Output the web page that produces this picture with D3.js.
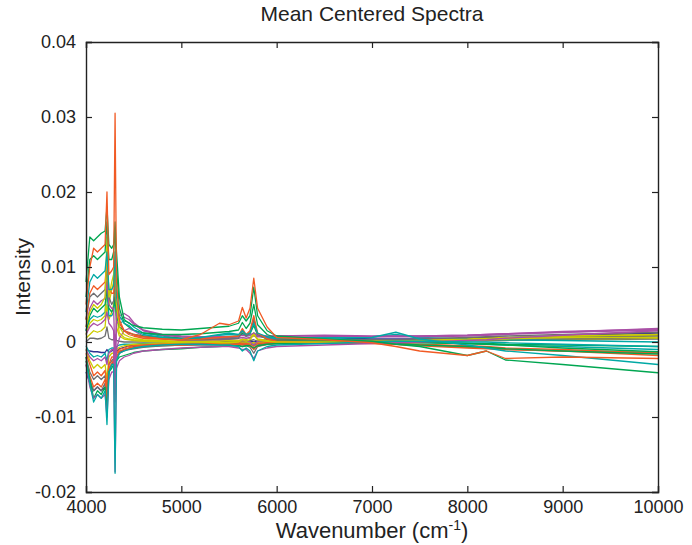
<!DOCTYPE html>
<html>
<head>
<meta charset="utf-8">
<script src="https://cdn.jsdelivr.net/npm/d3@7"></script>
<style>
  body { margin: 0; background: #fff; }
  text { font-family: "Liberation Sans", Arial, sans-serif; fill: #222; }
</style>
</head>
<body>
<div id="chart"></div>
<script>
// wavenumber grid (cm-1) shared by all spectra
var wavenumbers = [4000, 4040, 4080, 4120, 4160, 4200, 4220, 4240, 4270, 4290, 4305, 4320, 4350, 4400, 4450, 4500, 4600, 4800, 5000, 5200,
  5400, 5500, 5600, 5640, 5680, 5720, 5760, 5800, 5900, 6000, 6500, 7000, 7250, 7500, 8000, 8200, 8400, 9000, 10000];

// mean centered intensities, in units of 1e-3
var spec01 = [8, 14, 13.5, 14, 14.5, 14.8, 18, 13, 12.5, 13, 16, 12, 6, 3, 2.5, 2.2, 1.9, 1.7, 1.6, 1.8,
  2.0, 2.1, 2.5, 3.5, 2.8, 3.5, 7.3, 3.5, 1.5, 0.8, 0.4, 0.1, -0.3, -0.6, -1.8, -1.2, -2.4, -3.0, -4.1];
var spec02 = [5, 10, 12.5, 12, 12.5, 13, 20, 9, 9.5, 10, 30.5, 8, 3, 1.5, 1, 0.8, 0.5, 0.4, 0.3, 1.0,
  2.5, 2.3, 2.8, 4.6, 3.2, 4.5, 8.5, 4.5, 2.0, 0.6, 0.3, -0.1, -0.6, -1.2, -1.8, -1.2, -2.2, -2.0, -2.2];
var spec03 = [4, 8, 9, 8.5, 9, 9.5, 12, 7, 7, 7.5, 12, 6, 3.5, 2.5, 2.2, 1.6, 1.0, 0.6, 0.4, 0.6,
  1.0, 1.2, 1.0, 1.5, 1.0, 1.2, 2.5, 1.2, 0.7, 0.5, 0.5, 0.6, 1.3, 0.4, -0.4, -0.8, -1.2, -1.8, -3.0];
var spec04 = [2, 4, 5, 4.5, 5, 6, 14, 6, 8, 9, 12, 5, 2, 1, 0.7, 0.5, 0.3, 0.2, 0.0, 0.0,
  -0.1, -0.1, 0.0, 0.3, 0.1, 0.3, 1.0, 0.3, 0.1, 0.0, 0.0, 0.0, 0.0, 0.1, 0.2, 0.3, 0.4, 0.6, 0.6];
var spec05 = [1, 2, 2.5, 2.2, 2.5, 3, 4, 2.5, 2, 1.5, -5, 2.5, 3, 3.3, 3.0, 2.4, 1.5, 0.9, 0.7, 0.6,
  0.5, 0.5, 0.5, 0.6, 0.5, 0.6, 0.8, 0.7, 0.7, 0.8, 0.8, 0.7, 0.7, 0.7, 0.8, 0.9, 1.0, 1.3, 1.8];
var spec06 = [-1, -1.2, -1.3, -1.3, -1.4, -1.4, -1.0, -1.4, -1.2, -1.1, -1.0, -1.2, -0.9, -0.7, -0.5, -0.4, -0.3, -0.2, -0.1, 0.0,
  0.1, 0.1, 0.1, 0.1, 0.1, 0.1, 0.0, 0.1, 0.3, 0.4, 0.6, 0.4, 0.4, 0.4, 0.5, 0.6, 0.6, 0.8, 1.2];
var spec07 = [3, 6, 6.5, 6, 6.5, 7, 10, 6, 5, 5.5, 8, 4.5, 2.5, 1.5, 1.2, 1.0, 0.7, 0.5, 0.3, 0.3,
  0.4, 0.4, 0.5, 1.5, 0.8, 1.2, 3.0, 1.0, 0.4, 0.3, 0.3, 0.3, 0.3, 0.4, 0.6, 0.7, 0.8, 1.0, 1.3];
var spec08 = [-2, -5, -7.5, -6.5, -7, -6, -9, -4, -3.5, -3, -6, -2.5, -2, -1.8, -1.6, -1.4, -1.2, -1.0, -0.9, -0.7,
  -0.6, -0.5, -0.5, -0.6, -0.5, -0.5, -0.8, -0.5, -0.3, -0.2, -0.1, 0.0, 0.0, 0.0, -0.2, -0.3, -0.4, -0.8, -1.3];
var spec09 = [-1.5, -3, -4.5, -4, -4.5, -3.8, -6, -3, -2, -2, -4, -1.5, -1, -0.8, -0.6, -0.5, -0.4, -0.3, -0.3, -0.2,
  -0.2, -0.1, -0.1, -0.2, -0.2, -0.3, -0.6, -0.2, -0.1, -0.1, 0.0, -0.1, -0.2, -0.3, -0.5, -0.6, -0.8, -1.0, -1.5];
var spec10 = [-2.5, -5.5, -8, -7, -7.5, -6.5, -11, -4, -3, -3, -17.5, -2.5, -1.5, -1.2, -1.0, -0.8, -0.6, -0.4, -0.3, -0.3,
  -0.4, -0.4, -0.6, -1.2, -0.8, -1.2, -2.5, -1.2, -0.6, -0.4, -0.2, 0.0, 0.1, 0.1, 0.0, 0.0, -0.1, -0.3, -0.6];
var spec11 = [-1, -2.5, -3.5, -3, -3.5, -3, -5, -2, -1.5, -1.5, -3, -1, -0.7, -0.5, -0.4, -0.3, -0.3, -0.2, -0.2, -0.1,
  -0.1, 0.0, 0.0, 0.0, 0.0, 0.0, -0.2, 0.0, 0.0, 0.0, 0.0, 0.0, 0.0, 0.1, 0.2, 0.3, 0.3, 0.4, 0.5];
var spec12 = [-3, -6, -7.5, -7, -7.5, -7, -10, -5, -4, -4, -17.3, -3.5, -2.5, -2, -1.8, -1.5, -1.2, -1.0, -0.8, -0.7,
  -0.6, -0.6, -0.8, -1.0, -1.0, -1.5, -2.2, -1.2, -0.8, -0.6, -0.4, -0.2, -0.1, 0.0, 0.2, 0.3, 0.5, 0.9, 1.5];
var spec13 = [-4, -5.5, -6.5, -6, -6.5, -6, -7, -4, -3, -2.5, -4, -2, -1.5, -1, -0.8, -0.6, -0.5, -0.4, -0.3, -0.2,
  -0.1, 0.0, 0.0, 0.0, 0.0, 0.0, -0.2, 0.0, 0.1, 0.2, 0.3, 0.3, 0.3, 0.3, 0.4, 0.4, 0.5, 0.7, 0.9];
var spec14 = [-2, -4, -5, -4.5, -5, -4.5, -7, -3, -2.5, -2.2, -6, -2, -1.3, -1.0, -0.9, -0.8, -0.6, -0.5, -0.4, -0.3,
  -0.3, -0.2, -0.2, -0.3, -0.3, -0.4, -0.9, -0.4, -0.2, -0.1, 0.0, 0.1, 0.1, 0.2, 0.3, 0.4, 0.4, 0.6, 0.8];
var spec15 = [6, 11, 11.5, 11, 11.5, 12, 16, 11, 11, 12, 15, 10, 4.5, 2.5, 2.0, 1.6, 1.2, 1.0, 1.0, 1.1,
  1.3, 1.4, 1.6, 2.6, 1.8, 2.5, 5.0, 2.3, 1.0, 0.5, 0.3, 0.0, -0.2, -0.4, -0.6, -0.7, -0.9, -1.2, -1.6];
var spec16 = [3, 6.5, 7.5, 7, 7.5, 8, 11, 7, 6.5, 6.5, 10, 5, 2.5, 1.5, 1.3, 1.0, 0.7, 0.5, 0.3, 0.4,
  0.6, 0.7, 0.8, 1.8, 1.0, 1.5, 3.5, 1.2, 0.4, 0.1, -0.1, -0.2, -0.3, -0.4, -0.7, -0.8, -1.0, -1.2, -1.8];
var spec17 = [1.5, 3, 3.5, 3.3, 3.5, 4, 7, 3.5, 3.5, 4, 6, 3, 2.5, 2.8, 2.6, 2.0, 1.2, 0.8, 0.5, 0.5,
  0.9, 1.0, 0.9, 1.0, 0.8, 0.9, 1.2, 0.8, 0.6, 0.5, 0.6, 0.7, 1.0, 0.6, 0.4, 0.4, 0.3, 0.2, 0.0];
var spec18 = [0.5, 1, 1.5, 1.3, 1.5, 2, 5, 3, 4, 5, 8, 2, 0.8, 0.4, 0.3, 0.2, 0.1, 0.0, -0.1, -0.2,
  -0.3, -0.3, -0.3, -0.2, -0.3, -0.2, -0.1, -0.2, -0.2, -0.1, 0.0, 0.0, 0.1, 0.1, 0.3, 0.4, 0.5, 0.7, 0.9];
var spec19 = [-1, -2, -2.5, -2.2, -2.5, -2, -3, -1.5, -1, -1, -8, -1, 0.5, 1.5, 1.8, 1.5, 0.8, 0.4, 0.2, 0.2,
  0.3, 0.3, 0.2, 0.2, 0.2, 0.0, -0.4, 0.1, 0.3, 0.5, 0.7, 0.7, 0.8, 0.8, 0.9, 1.0, 1.1, 1.3, 1.6];
var spec20 = [0, 0.5, 0.5, 0.4, 0.5, 0.8, 2, 0.5, 0.3, 0.3, 1, 0.2, 0.1, 0.0, 0.0, 0.0, 0.0, 0.0, 0.0, 0.1,
  0.1, 0.1, 0.1, 0.2, 0.1, 0.2, 0.3, 0.1, 0.1, 0.1, 0.1, 0.1, 0.1, 0.1, 0.2, 0.2, 0.2, 0.3, 0.4];
var spec21 = [-0.5, -1.5, -2, -1.8, -2, -1.5, -2.5, -1, -0.8, -0.8, -2, -0.6, -0.4, -0.3, -0.3, -0.3, -0.2, -0.2, -0.2, -0.1,
  -0.1, -0.1, -0.1, -0.2, -0.1, -0.2, -0.5, -0.2, -0.1, 0.0, 0.0, 0.0, 0.2, 0.0, -0.2, -0.3, -0.4, -0.6, -1.0];
var spec22 = [2, 4.5, 5.5, 5, 5.5, 5.8, 8, 5, 4.5, 4.5, -3, 4, 3.5, 3.8, 3.4, 2.6, 1.6, 1.0, 0.8, 0.7,
  0.7, 0.7, 0.7, 0.9, 0.8, 0.9, 1.2, 0.9, 0.8, 0.8, 0.9, 0.8, 0.8, 0.8, 0.9, 1.0, 1.1, 1.4, 1.7];
var spec23 = [1, 2.5, 3, 2.8, 3, 3.5, 9, 5, 7, 8, 11, 3.5, 1.2, 0.6, 0.4, 0.3, 0.2, 0.1, 0.1, 0.1,
  0.1, 0.2, 0.2, 0.4, 0.3, 0.5, 1.2, 0.4, 0.2, 0.2, 0.2, 0.2, 0.2, 0.3, 0.4, 0.5, 0.6, 0.8, 1.0];
var spec24 = [-2.5, -4.5, -6, -5.5, -6, -5, -8, -3.5, -2.8, -2.5, -5, -2, -1.2, -1.0, -0.8, -0.7, -0.5, -0.4, -0.4, -0.3,
  -0.3, -0.3, -0.3, -0.4, -0.4, -0.5, -1.0, -0.5, -0.3, -0.2, -0.1, -0.1, -0.3, -0.5, -0.8, -0.9, -1.0, -1.2, -1.4];
var spec25 = [1.5, 3.5, 4.5, 4, 4.5, 5, 7, 4.5, 4, 4.5, 6, 3.5, 2, 1.5, 1.2, 1.0, 0.8, 0.6, 0.5, 0.5,
  0.6, 0.6, 0.7, 1.2, 0.8, 1.1, 2.2, 0.9, 0.4, 0.2, 0.1, 0.0, 0.0, -0.1, -0.2, -0.2, -0.3, -0.4, -0.6];
var spec26 = [-3, -5, -6.5, -6, -6.5, -5.5, -8, -4, -3, -2.8, -7, -2.2, -1.5, -1.2, -1.0, -0.9, -0.7, -0.5, -0.4, -0.4,
  -0.4, -0.4, -0.4, -0.6, -0.5, -0.7, -1.5, -0.6, -0.3, -0.2, -0.1, 0.0, 0.0, 0.1, 0.2, 0.2, 0.3, 0.4, 0.6];

// drawing order (later ones end up on top)
var spectra = [spec20, spec06, spec13, spec21, spec11, spec18, spec26, spec14, spec24, spec09, spec08, spec19, spec17,
  spec23, spec25, spec05, spec22, spec07, spec16, spec04, spec15, spec03, spec12, spec10, spec01, spec02];

var xTicks = [4000, 5000, 6000, 7000, 8000, 9000, 10000];
var yTicks = [-0.02, -0.01, 0, 0.01, 0.02, 0.03, 0.04];
var yTickLabels = ["-0.02", "-0.01", "0", "0.01", "0.02", "0.03", "0.04"];

// line colours, picked per spectrum
var colorOf = new Map([
  [spec01, "#00a651"], [spec02, "#f15a24"], [spec03, "#00a9a5"], [spec04, "#cccc00"], [spec05, "#a94fa6"],
  [spec06, "#2e3192"], [spec07, "#6d6e71"], [spec08, "#00a651"], [spec09, "#f15a24"], [spec10, "#00a9a5"],
  [spec11, "#cccc00"], [spec12, "#a94fa6"], [spec13, "#2e3192"], [spec14, "#6d6e71"], [spec15, "#00a651"],
  [spec16, "#f15a24"], [spec17, "#00a9a5"], [spec18, "#cccc00"], [spec19, "#a94fa6"], [spec20, "#6d6e71"],
  [spec21, "#00a9a5"], [spec22, "#a94fa6"], [spec23, "#cccc00"], [spec24, "#f15a24"], [spec25, "#00a651"],
  [spec26, "#6d6e71"]
]);

var svg = d3.select("#chart").append("svg").attr("width", 692).attr("height", 545);

var margin = { top: 42, right: 34, bottom: 53, left: 86 };
var width = 692 - margin.left - margin.right;
var height = 545 - margin.top - margin.bottom;

var x = d3.scaleLinear().domain([4000, 10000]).range([0, width]);
var y = d3.scaleLinear().domain([-0.02, 0.04]).range([height, 0]);

var g = svg.append("g").attr("transform", "translate(" + margin.left + "," + margin.top + ")");

var line = d3
  .line()
  .x(function (d, i) { return x(wavenumbers[i]); })
  .y(function (d) { return y(d / 1000); });

g.selectAll(".spec")
  .data(spectra)
  .enter()
  .append("path")
  .attr("class", "spec")
  .attr("d", line)
  .style("fill", "none")
  .style("stroke", function (d) { return colorOf.get(d); })
  .style("stroke-width", 1.3)
  .style("stroke-linejoin", "round");

// box and inward ticks on all four sides, matlab style
var tick = 6;
g.append("g")
  .attr("transform", "translate(0," + height + ")")
  .call(d3.axisBottom(x).tickValues(xTicks).tickSize(-tick).tickPadding(tick + 2).tickFormat(d3.format("d")));
g.append("g")
  .call(d3.axisTop(x).tickValues(xTicks).tickSize(-tick).tickFormat(""));
g.append("g")
  .call(d3.axisLeft(y).tickValues(yTicks).tickSize(-tick).tickPadding(tick + 4)
    .tickFormat(function (d, i) { return yTickLabels[i]; }));
g.append("g")
  .attr("transform", "translate(" + width + ",0)")
  .call(d3.axisRight(y).tickValues(yTicks).tickSize(-tick).tickFormat(""));

g.selectAll(".domain").style("stroke", "#222").style("stroke-width", 1.4);
g.selectAll(".tick line").style("stroke", "#222").style("stroke-width", 1.2);
g.selectAll(".tick text")
  .style("font-size", "18px")
  .style("font-family", "'Liberation Sans', Arial, sans-serif")
  .style("fill", "#222");

// title and axis labels
svg.append("text")
  .attr("x", margin.left + width / 2)
  .attr("y", 21)
  .style("text-anchor", "middle")
  .style("font-size", "21px")
  .text("Mean Centered Spectra");

var xl = svg.append("text")
  .attr("x", margin.left + width / 2)
  .attr("y", 538)
  .style("text-anchor", "middle")
  .style("font-size", "22px");
xl.append("tspan").text("Wavenumber (cm");
xl.append("tspan").attr("dy", "-8").style("font-size", "14px").text("-1");
xl.append("tspan").attr("dy", "8").text(")");

svg.append("text")
  .attr("transform", "rotate(-90)")
  .attr("x", -(margin.top + height / 2) - 10)
  .attr("y", 30)
  .style("text-anchor", "middle")
  .style("font-size", "21px")
  .text("Intensity");
</script>
</body>
</html>
